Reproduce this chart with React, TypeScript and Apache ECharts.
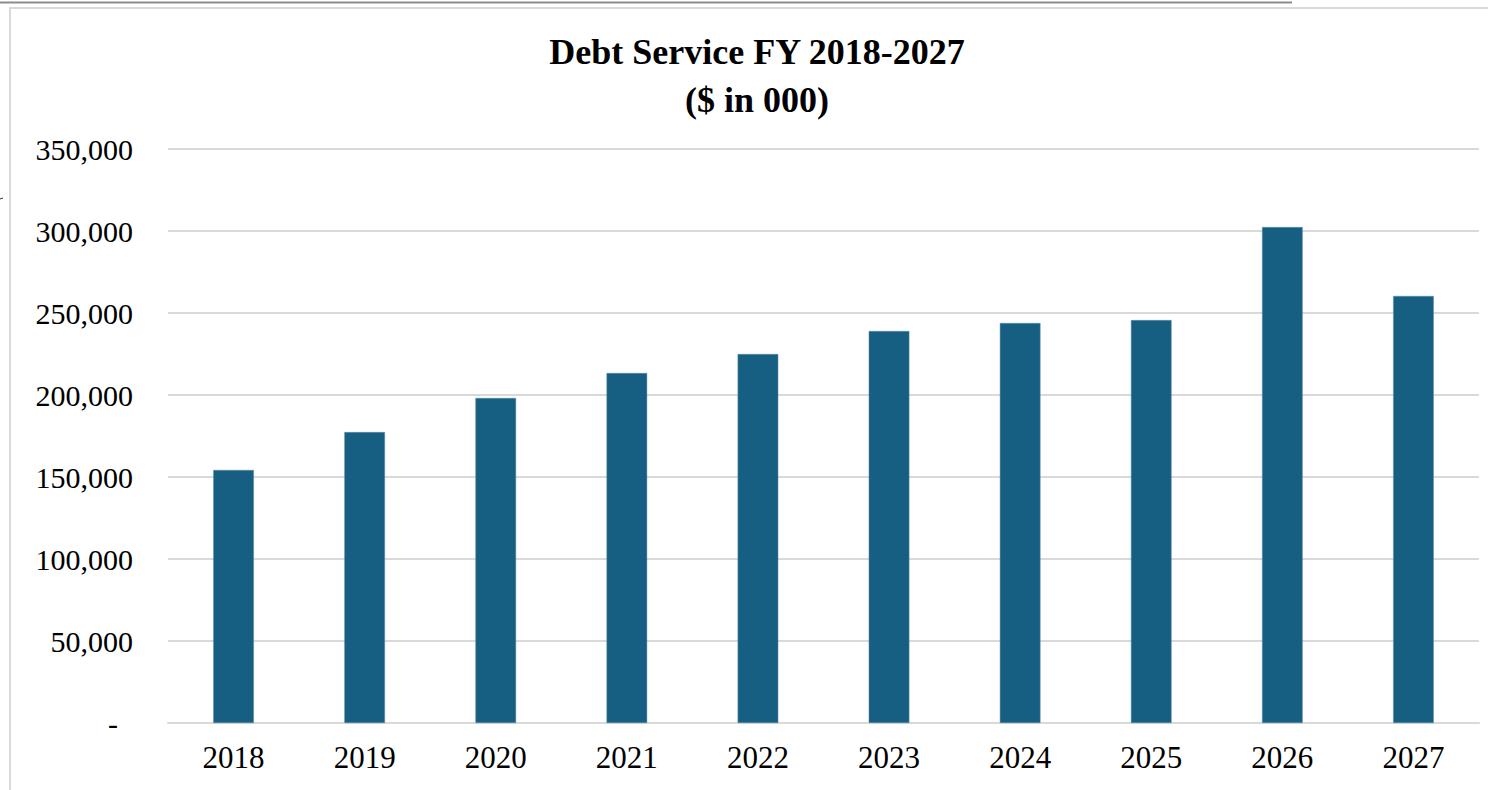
import React, { useEffect, useRef } from "react";
import * as echarts from "echarts";

const categories = ["2018", "2019", "2020", "2021", "2022", "2023", "2024", "2025", "2026", "2027"];
const debtService = [154300, 177400, 198200, 213400, 225000, 239000, 243900, 245700, 302400, 260400];
const titleLines = ["Debt Service FY 2018-2027", "($ in 000)"];

export default function App() {
  const ref = useRef<HTMLDivElement>(null);
  useEffect(() => {
    if (!ref.current) return;
    const chart = echarts.init(ref.current, null, { renderer: "svg" });
    const font = "'Liberation Serif', 'Times New Roman', serif";
    chart.setOption({
      animation: false,
      backgroundColor: "#ffffff",
      title: {
        text: titleLines.join("\n"),
        left: 752,
        top: 23,
        textAlign: "center",
        textStyle: {
          fontFamily: font,
          fontWeight: "bold",
          fontSize: 36,
          lineHeight: 48,
          color: "#000000",
        },
      },
      graphic: [
        { type: "line", shape: { x1: 0, y1: 2.5, x2: 1292, y2: 2.5 }, style: { stroke: "#8c8c8c", lineWidth: 2 } },
        { type: "rect", shape: { x: 10, y: 8, width: 1490, height: 800 }, style: { fill: "none", stroke: "#d9d9d9", lineWidth: 2 } },
        { type: "line", shape: { x1: 0, y1: 199, x2: 3, y2: 198 }, style: { stroke: "#333", lineWidth: 1 } },
      ],
      grid: { left: 168, right: 9, top: 149, bottom: 67, containLabel: false },
      xAxis: {
        type: "category",
        data: categories,
        axisLine: { lineStyle: { color: "#d9d9d9", width: 2 } },
        axisTick: { show: false },
        axisLabel: { fontFamily: font, fontSize: 31, color: "#000", margin: 19 },
      },
      yAxis: {
        type: "value",
        min: 0,
        max: 350000,
        interval: 50000,
        axisLine: { show: false },
        axisTick: { show: false },
        splitLine: { lineStyle: { color: "#d9d9d9", width: 2 } },
        axisLabel: {
          fontFamily: font,
          fontSize: 30,
          color: "#000",
          margin: 35,
          formatter: (v: number) => (v === 0 ? "{z|-}" : v.toLocaleString("en-US")),
          rich: { z: { fontFamily: font, fontSize: 30, color: "#000", padding: [0, 15, 0, 0] } },
        },
      },
      series: [
        {
          type: "bar",
          data: debtService,
          barWidth: "31%",
          itemStyle: { color: "#165f82", borderColor: "#5f8fa8", borderWidth: 0.5 },
        },
      ],
    });
    return () => chart.dispose();
  }, []);
  return <div ref={ref} style={{ position: "fixed", left: 0, top: 0, width: 1488, height: 790 }} />;
}
